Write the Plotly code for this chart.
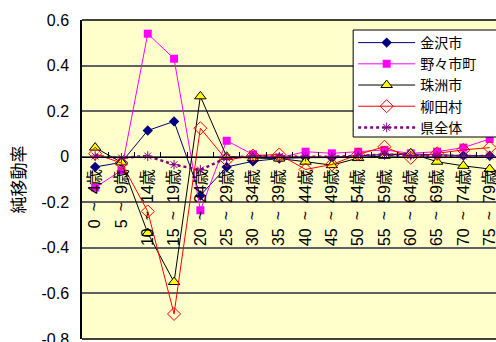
import plotly.graph_objects as go

categories = ["0\u2002~\u20024歳", "5\u2002~\u20029歳", "10\u2002~\u200214歳", "15\u2002~\u200219歳",
              "20\u2002~\u200224歳", "25\u2002~\u200229歳", "30\u2002~\u200234歳", "35\u2002~\u200239歳",
              "40\u2002~\u200244歳", "45\u2002~\u200249歳", "50\u2002~\u200254歳", "55\u2002~\u200259歳",
              "60\u2002~\u200264歳", "65\u2002~\u200269歳", "70\u2002~\u200274歳", "75\u2002~\u200279歳"]

kanazawa = [-0.045, -0.025, 0.115, 0.155, -0.17, -0.045, -0.02, -0.008, -0.004, -0.004,
            0.004, 0.01, 0.012, 0.008, 0.005, 0.004]
nonoichi = [-0.135, -0.06, 0.54, 0.43, -0.235, 0.07, 0.01, -0.004, 0.022, 0.015,
            0.022, 0.03, 0.015, 0.022, 0.04, 0.078]
suzu = [0.04, -0.025, -0.335, -0.55, 0.265, 0.0, -0.006, -0.008, -0.022, -0.037,
        -0.006, 0.004, 0.015, -0.022, -0.04, -0.054]
yanagida = [0.013, -0.028, -0.24, -0.69, 0.125, -0.015, 0.005, 0.01, -0.056, -0.034,
            0.01, 0.044, -0.005, 0.015, 0.03, 0.04]
ken = [0.003, -0.005, 0.003, -0.035, -0.058, -0.005, 0.002, 0.0, 0.0, 0.0,
       0.003, 0.01, 0.005, 0.004, 0.003, 0.003]

series_names = ["金沢市", "野々市町", "珠洲市", "柳田村", "県全体"]

ytick_vals = [0.6, 0.4, 0.2, 0, -0.2, -0.4, -0.6, -0.8]
ytick_text = ["0.6", "0.4", "0.2", "0", "-0.2", "-0.4", "-0.6", "-0.8"]

FONT = "Arial, 'Liberation Sans', 'Noto Sans CJK JP', sans-serif"

fig = go.Figure()
fig.add_trace(go.Scatter(
    x=categories, y=kanazawa, name=series_names[0], mode="lines+markers",
    line=dict(color="#000080", width=1),
    marker=dict(symbol="diamond", size=8, color="#000080", line=dict(width=0))))
fig.add_trace(go.Scatter(
    x=categories, y=nonoichi, name=series_names[1], mode="lines+markers",
    line=dict(color="#FF00FF", width=1),
    marker=dict(symbol="square", size=8, color="#FF00FF", line=dict(width=0))))
fig.add_trace(go.Scatter(
    x=categories, y=suzu, name=series_names[2], mode="lines+markers",
    line=dict(color="#000000", width=1),
    marker=dict(symbol="triangle-up", size=10, color="#FFFF00",
                line=dict(color="#000000", width=1))))
fig.add_trace(go.Scatter(
    x=categories, y=yanagida, name=series_names[3], mode="lines+markers",
    line=dict(color="#FF0000", width=1),
    marker=dict(symbol="diamond-open", size=10, color="#FF0000", line=dict(width=1))))
fig.add_trace(go.Scatter(
    x=categories, y=ken, name=series_names[4], mode="lines+markers",
    line=dict(color="#800080", width=2.5, dash="dot"),
    marker=dict(symbol="asterisk-open", size=8, color="#800080",
                line=dict(color="#800080", width=1))))

fig.update_layout(
    width=496, height=342,
    margin=dict(l=82, r=0, t=20, b=3, autoexpand=False),
    paper_bgcolor="white", plot_bgcolor="#FFFFCC",
    font=dict(family=FONT, size=16, color="black"),
    showlegend=True,
    legend=dict(x=0.655, y=0.978, xanchor="left", yanchor="top",
                bgcolor="rgba(0,0,0,0)", borderwidth=0,
                font=dict(size=14), itemwidth=57, tracegroupgap=0),
    xaxis=dict(type="category", range=[-0.5, 15.24], anchor="free", position=0.5714,
               showline=True, linecolor="black", linewidth=1,
               ticks="inside", ticklen=5, tickcolor="black", tickson="boundaries",
               tickangle=-90, showgrid=False, tickfont=dict(size=16),
               ticklabelstandoff=5, automargin=False),
    yaxis=dict(range=[-0.8, 0.6], tickvals=ytick_vals, ticktext=ytick_text,
               showgrid=True, gridcolor="#606060", gridwidth=1.5,
               showline=True, linecolor="black", linewidth=1.5, zeroline=False,
               ticks="", ticklabelstandoff=8, tickfont=dict(size=16),
               ticklabeloverflow="allow", automargin=False,
               title=dict(text="純移動率", font=dict(size=17), standoff=12)),
    shapes=[
        dict(type="line", xref="paper", yref="paper", x0=0, x1=1, y0=1, y1=1,
             line=dict(color="black", width=1.5)),
        dict(type="line", xref="paper", yref="paper", x0=0, x1=1, y0=0, y1=0,
             line=dict(color="black", width=1.5)),
        dict(type="rect", xref="paper", yref="paper", x0=0.655, x1=1.1,
             y0=(339 - 137) / 319, y1=(339 - 30) / 319, layer="above",
             fillcolor="white", line=dict(color="black", width=1)),
    ],
)

fig.write_html("out.html")
